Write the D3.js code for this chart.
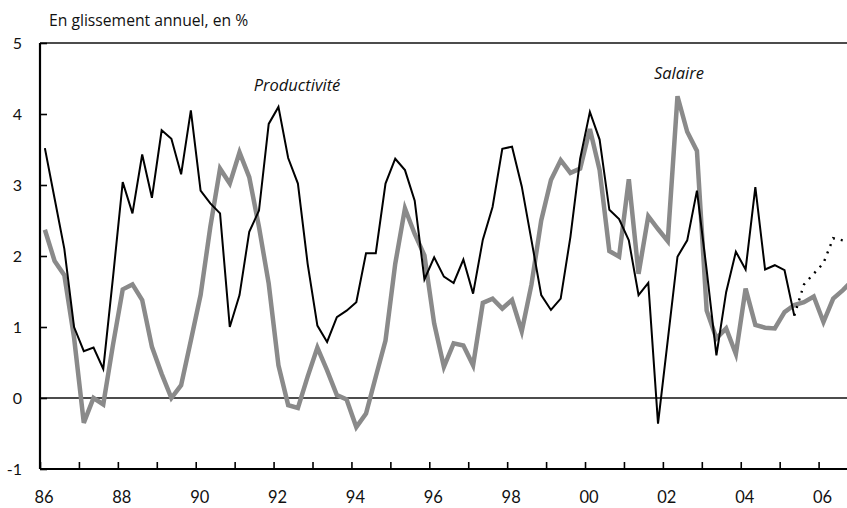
<!DOCTYPE html>
<html>
<head>
<meta charset="utf-8">
<script src="https://cdn.jsdelivr.net/npm/d3@7"></script>
<style>
  body { margin: 0; background: #fff; }
  text { font-family: Lato, "Open Sans", sans-serif; fill: #111; }
</style>
</head>
<body>
<div id="chart"></div>
<script>
// quarterly series, 1986T1 onward (glissement annuel, en %)
var productivite = [3.52, 2.81, 2.10, 1.00, 0.66, 0.71, 0.41, 1.70,
  3.04, 2.60, 3.43, 2.82, 3.77, 3.65, 3.15, 4.05,
  2.92, 2.74, 2.60, 1.00, 1.45, 2.34, 2.64, 3.86,
  4.10, 3.38, 3.02, 1.89, 1.02, 0.79, 1.14, 1.23,
  1.35, 2.04, 2.04, 3.02, 3.37, 3.21, 2.78, 1.67,
  1.98, 1.71, 1.62, 1.95, 1.47, 2.23, 2.69, 3.51,
  3.54, 2.98, 2.22, 1.45, 1.24, 1.40, 2.27, 3.37,
  4.03, 3.64, 2.65, 2.52, 2.22, 1.45, 1.62, -0.36,
  0.81, 1.99, 2.22, 2.92, 1.80, 0.60, 1.49, 2.06,
  1.81, 2.97, 1.81, 1.87, 1.80, 1.16];

var salaire = [2.37, 1.93, 1.73, 0.85, -0.35, 0.00, -0.09, 0.75,
  1.53, 1.60, 1.38, 0.72, 0.34, 0.00, 0.18, 0.81,
  1.45, 2.41, 3.23, 3.02, 3.46, 3.11, 2.41, 1.61,
  0.46, -0.10, -0.14, 0.30, 0.71, 0.39, 0.04, -0.02,
  -0.41, -0.22, 0.30, 0.81, 1.89, 2.67, 2.31, 2.01,
  1.05, 0.44, 0.77, 0.74, 0.46, 1.34, 1.40, 1.26,
  1.38, 0.94, 1.60, 2.50, 3.07, 3.35, 3.17, 3.23,
  3.79, 3.21, 2.07, 1.99, 3.08, 1.75, 2.56, 2.38,
  2.21, 4.25, 3.75, 3.48, 1.23, 0.84, 0.98, 0.62,
  1.54, 1.03, 0.99, 0.98, 1.21, 1.31, 1.35, 1.43,
  1.07, 1.40, 1.52, 1.66];

// productivity forecast (dotted), from 2005T2
var prevision = [1.16, 1.60, 1.75, 1.90, 2.25, 2.22];
var previsionStart = 77;

var yearTicks = [1986, 1987, 1988, 1989, 1990, 1991, 1992, 1993, 1994, 1995, 1996,
  1997, 1998, 1999, 2000, 2001, 2002, 2003, 2004, 2005, 2006];
var yearLabels = ["86", "88", "90", "92", "94", "96", "98", "00", "02", "04", "06"];
var yTicks = [-1, 0, 1, 2, 3, 4, 5];

// quarter labels 1986T1, 1986T2 ...
var quarters = d3.range(salaire.length).map(function(i) {
  return (1986 + Math.floor(i / 4)) + "T" + (i % 4 + 1);
});
function qTime(q) {
  var p = q.split("T");
  return +p[0] + (+p[1] - 0.5) / 4;
}

var W = 847, H = 508;
var plotLeft = 40, plotTop = 43, plotBottom = 469;

var svg = d3.select("#chart").append("svg")
  .attr("width", W).attr("height", H);

var x = d3.scaleLinear().domain([1986, 2007]).range([plotLeft, plotLeft + 21 * 38.93]);
var y = d3.scaleLinear().domain([-1, 5]).range([plotBottom, plotTop]);

svg.append("clipPath").attr("id", "plot")
  .append("rect").attr("x", plotLeft).attr("y", plotTop - 5)
  .attr("width", W - plotLeft).attr("height", plotBottom - plotTop + 10);

svg.append("text")
  .attr("x", 49).attr("y", 26)
  .style("font-family", "'Open Sans', sans-serif")
  .style("font-size", "15.7px")
  .text("En glissement annuel, en %");

// top frame line and zero line
svg.append("line")
  .attr("x1", plotLeft).attr("x2", W).attr("y1", y(5)).attr("y2", y(5))
  .attr("stroke", "#111").attr("stroke-width", 1.6);
svg.append("line")
  .attr("x1", plotLeft).attr("x2", W).attr("y1", y(0)).attr("y2", y(0))
  .attr("stroke", "#111").attr("stroke-width", 1.6);

// y axis
var yAxis = svg.append("g").attr("transform", "translate(" + plotLeft + ",0)")
  .call(d3.axisLeft(y).tickValues(yTicks).tickSize(-7).tickPadding(18)
    .tickFormat(function(d) { return String(d); }));
yAxis.select(".domain").attr("stroke-width", 2.2).attr("d", "M0," + plotTop + "V" + plotBottom);
yAxis.selectAll(".tick line").attr("stroke-width", 1.6);
yAxis.selectAll(".tick text").style("font-size", "16px").attr("fill", "#111")
  .style("font-family", "Lato, sans-serif");

// x axis
var xAxis = svg.append("g").attr("transform", "translate(0," + plotBottom + ")")
  .call(d3.axisBottom(x).tickValues(yearTicks).tickSize(-7).tickFormat(""));
xAxis.select(".domain").attr("stroke-width", 2.2).attr("d", "M" + plotLeft + ",0H" + W);
xAxis.selectAll(".tick line").attr("stroke-width", 1.6);

svg.append("g").selectAll("text")
  .data(yearLabels).enter().append("text")
  .attr("x", function(d, i) { return x(1986 + 2 * i) + 4; })
  .attr("y", 503)
  .attr("text-anchor", "middle")
  .style("font-size", "16.5px")
  .text(function(d) { return d; });

var line = d3.line()
  .x(function(d) { return x(qTime(d.q)); })
  .y(function(d) { return y(d.v); });

var plot = svg.append("g").attr("clip-path", "url(#plot)");

plot.append("path")
  .datum(salaire.map(function(v, i) { return {q: quarters[i], v: v}; }))
  .attr("fill", "none").attr("stroke", "#8a8a8a").attr("stroke-width", 4.5)
  .attr("d", line);

plot.append("path")
  .datum(productivite.map(function(v, i) { return {q: quarters[i], v: v}; }))
  .attr("fill", "none").attr("stroke", "#000").attr("stroke-width", 2)
  .attr("d", line);

plot.append("path")
  .datum(prevision.map(function(v, i) { return {q: quarters[previsionStart + i], v: v}; }))
  .attr("fill", "none").attr("stroke", "#000").attr("stroke-width", 2.4)
  .attr("stroke-dasharray", "2,6")
  .attr("d", line);

svg.append("text")
  .attr("x", 297).attr("y", 91)
  .attr("text-anchor", "middle")
  .style("font-family", "'Open Sans', sans-serif")
  .style("font-size", "16.5px").style("font-style", "italic")
  .text("Productivité");

svg.append("text")
  .attr("x", 679).attr("y", 79)
  .attr("text-anchor", "middle")
  .style("font-family", "'Open Sans', sans-serif")
  .style("font-size", "16.5px").style("font-style", "italic")
  .text("Salaire");
</script>
</body>
</html>
